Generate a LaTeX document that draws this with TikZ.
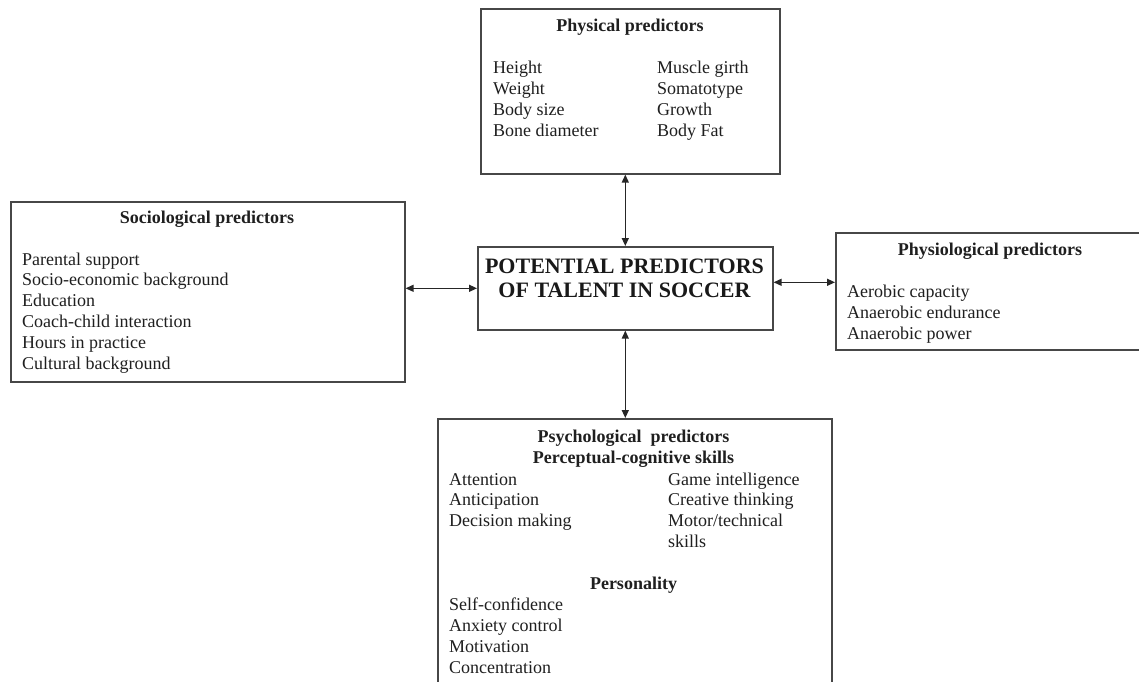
\documentclass[tikz,border=0pt]{standalone}
\usepackage{fontspec}
\setmainfont{Liberation Serif}
\usetikzlibrary{arrows.meta}
\begin{document}
\begin{tikzpicture}[x=1pt,y=-1pt,
  box/.style={draw=black!72,line width=1.6pt,inner sep=0pt,anchor=north west,rectangle},
  txt/.style={inner sep=0pt,anchor=base west,align=left,text=black!88,font=\fontsize{18}{21}\selectfont},
  ttl/.style={inner sep=0pt,anchor=base,align=center,text=black!88,font=\fontsize{18}{21}\selectfont\bfseries},
  big/.style={inner sep=0pt,anchor=base,align=center,text=black!90,font=\fontsize{22}{24}\selectfont\bfseries},
  link/.style={draw=black!85,line width=1.3pt,{Triangle[length=8pt,width=7pt]}-{Triangle[length=8pt,width=7pt]}}]
\useasboundingbox (0,0) rectangle (1139,681);
\clip (0,0) rectangle (1139,681);
\fill[white] (0,0) rectangle (1139,681);

% boxes
\node[box,minimum width=299pt,minimum height=165pt] (phys) at (480,8) {};
\node[box,minimum width=295pt,minimum height=83pt] (ctr) at (477,246) {};
\node[box,minimum width=394pt,minimum height=180pt] (soc) at (10,201) {};
\node[box,minimum width=312pt,minimum height=117pt] (physio) at (835,232) {};
\node[box,minimum width=394pt,minimum height=290pt] (psy) at (437,418) {};

% centre
\node[big] (ctr1) at (624.5,273) {POTENTIAL PREDICTORS};
\node[big] (ctr2) at (624.5,297) {OF TALENT IN SOCCER};

% physical (base anchor = last line baseline)
\node[ttl] (physT) at (630,31) {Physical predictors};
\node[txt] (physL) at (493,136) {Height\\Weight\\Body size\\Bone diameter};
\node[txt] (physR) at (657,136) {Muscle girth\\Somatotype\\Growth\\Body Fat};

% sociological
\node[ttl] (socT) at (207,223) {Sociological predictors};
\node[txt,font=\fontsize{18}{20.8}\selectfont] (socL) at (22,369) {Parental support\\Socio-economic background\\Education\\Coach-child interaction\\Hours in practice\\Cultural background};

% physiological
\node[ttl] (physioT) at (990,255) {Physiological predictors};
\node[txt] (physioL) at (847,339) {Aerobic capacity\\Anaerobic endurance\\Anaerobic power};

% psychological
\node[ttl] (psyT) at (633.5,442) {Psychological\ \ predictors};
\node[ttl] (psyP) at (633.5,463) {Perceptual-cognitive skills};
\node[txt,font=\fontsize{18}{20.8}\selectfont] (psyL) at (449,526.6) {Attention\\Anticipation\\Decision making};
\node[txt,font=\fontsize{18}{20.8}\selectfont] (psyR) at (668,547.4) {Game intelligence\\Creative thinking\\Motor/technical\\skills};
\node[ttl] (psyPers) at (633.5,589) {Personality};
\node[txt] (psyL2) at (449,673) {Self-confidence\\Anxiety control\\Motivation\\Concentration};

% connectors
\draw[link] (ctr.north) -- (ctr.north |- phys.south);
\draw[link] (ctr.south) -- (ctr.south |- psy.north);
\draw[link] (ctr.west) -- (ctr.west -| soc.east);
\draw[link] ([yshift=6pt]ctr.east) -- ([yshift=6pt]ctr.east -| physio.west);
\end{tikzpicture}
\end{document}
